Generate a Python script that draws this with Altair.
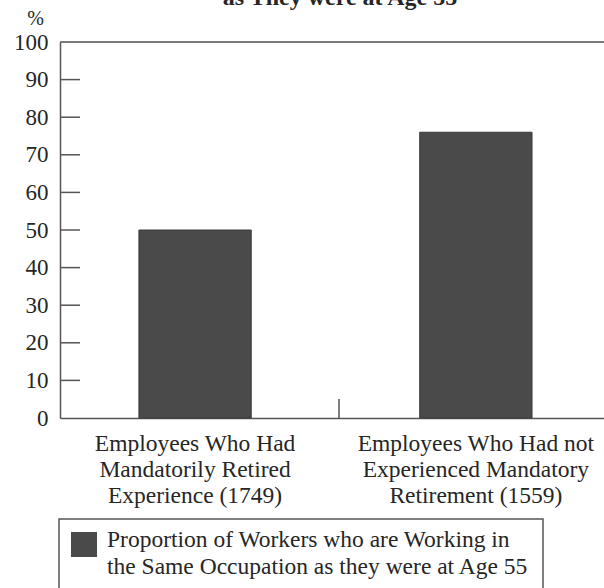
import altair as alt
import pandas as pd

# Survey groups (sample sizes in brackets) and share still in the age-55 occupation
groups = [
    "Employees Who Had|Mandatorily Retired|Experience (1749)",
    "Employees Who Had not|Experienced Mandatory|Retirement (1559)",
]
shares = [50, 76]
y_ticks = list(range(0, 101, 10))
inner_ticks = list(range(10, 100, 10))
title_line = "as They were at Age 55"
legend_lines = [
    "Proportion of Workers who are Working in",
    "the Same Occupation as they were at Age 55",
]

W, H = 544, 376
FONT = "Liberation Serif"
INK = "#262626"
LINE = "#555555"
BAR = "#4a4a4a"

bars_df = pd.DataFrame({"group": groups, "share": shares})
ticks_df = pd.DataFrame({"share": inner_ticks})
one = pd.DataFrame({"k": [0]})

y_scale = alt.Scale(domain=[0, 100], nice=False)
y_axis = alt.Axis(
    values=y_ticks,
    ticks=False,
    grid=False,
    labelFont=FONT,
    labelFontSize=23,
    labelColor=INK,
    labelPadding=12,
    domainColor=LINE,
    domainWidth=1.5,
    title="%",
    titleAngle=0,
    titleX=-25,
    titleY=-24,
    titleAlign="center",
    titleBaseline="middle",
    titleFont=FONT,
    titleFontSize=20,
    titleFontWeight="normal",
    titleColor=INK,
)

bars = alt.Chart(bars_df).mark_bar(color=BAR, stroke="#3a3a3a", strokeWidth=1).encode(
    x=alt.X(
        "group:N",
        sort=groups,
        scale=alt.Scale(paddingInner=0.6, paddingOuter=0.2687, align=0.523),
        axis=alt.Axis(
            title=None,
            labelExpr="split(datum.label, '|')",
            labelAngle=0,
            labelFont=FONT,
            labelFontSize=23.5,
            labelColor=INK,
            labelLineHeight=26,
            labelPadding=13,
            labelBaseline="top",
            labelLimit=400,
            ticks=False,
            domainColor=LINE,
            domainWidth=1.5,
        ),
    ),
    y=alt.Y("share:Q", scale=y_scale, axis=y_axis),
)

# inward-pointing ticks on the value axis
inner = alt.Chart(ticks_df).mark_rule(color=LINE, strokeWidth=1.5).encode(
    y=alt.Y("share:Q", scale=y_scale, axis=y_axis),
    x=alt.value(0),
    x2=alt.value(20),
)

# top edge of the frame
top_edge = alt.Chart(one).mark_rule(color=LINE, strokeWidth=1.5).encode(
    x=alt.value(0), x2=alt.value(W), y=alt.value(0)
)

# short divider between the two groups
divider = alt.Chart(one).mark_rule(color=LINE, strokeWidth=1.5).encode(
    x=alt.value(279), y=alt.value(H - 19), y2=alt.value(H)
)

title = alt.Chart(one).mark_text(
    text=title_line, font=FONT, fontSize=24, fontWeight="bold", color=INK,
    align="center", baseline="alphabetic",
).encode(x=alt.value(280), y=alt.value(-37))

legend_box = alt.Chart(one).mark_rect(
    fill="white", fillOpacity=0, stroke=LINE, strokeWidth=1.5
).encode(x=alt.value(-1), x2=alt.value(483), y=alt.value(477), y2=alt.value(H + 220))

legend_swatch = alt.Chart(one).mark_rect(color=BAR).encode(
    x=alt.value(11), x2=alt.value(37), y=alt.value(490), y2=alt.value(515)
)

legend_text = alt.Chart(one).mark_text(
    text=legend_lines, font=FONT, fontSize=23.5, color=INK,
    align="left", baseline="alphabetic", lineHeight=27,
).encode(x=alt.value(47), y=alt.value(505))

chart = (
    alt.layer(bars, inner, top_edge, divider, title, legend_box, legend_swatch, legend_text)
    .properties(
        width=W,
        height=H,
        autosize=alt.AutoSizeParams(type="none"),
        padding={"left": 60, "top": 42, "right": 0, "bottom": 170},
    )
    .configure_view(stroke=None)
    .configure(background="white")
)

chart.save("out.html", embed_options={"renderer": "svg", "actions": False})
